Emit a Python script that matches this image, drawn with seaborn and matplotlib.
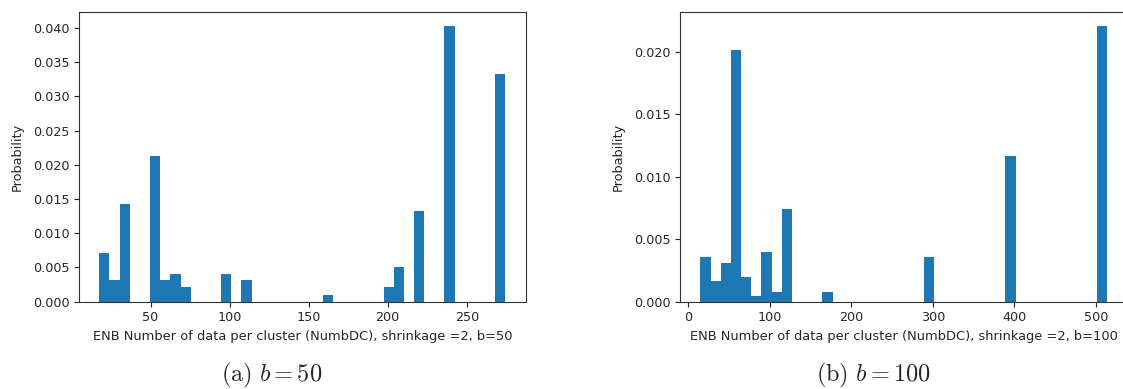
import numpy as np
import pandas as pd
import matplotlib
matplotlib.use("Agg")
import matplotlib.pyplot as plt
import seaborn as sns

# ---- data (density-normalised histograms, 40 bins each) ----
left_range = (17.6, 274.4)
left_prob = [0.0071, 0.0032, 0.0143, 0.0, 0.0, 0.0213, 0.0032, 0.0041, 0.0022, 0.0,
             0.0, 0.0, 0.0041, 0.0, 0.0032, 0.0, 0.0, 0.0, 0.0, 0.0,
             0.0, 0.0, 0.0010, 0.0, 0.0, 0.0, 0.0, 0.0, 0.0022, 0.0051,
             0.0, 0.0133, 0.0, 0.0, 0.0403, 0.0, 0.0, 0.0, 0.0, 0.0333]

right_range = (15.3, 513.5)
right_prob = [0.00355, 0.00163, 0.00312, 0.0202, 0.00195, 0.00045, 0.00397, 0.00077, 0.0074, 0.0,
              0.0, 0.0, 0.00077, 0.0, 0.0, 0.0, 0.0, 0.0, 0.0, 0.0,
              0.0, 0.0, 0.00355, 0.0, 0.0, 0.0, 0.0, 0.0, 0.0, 0.0,
              0.01165, 0.0, 0.0, 0.0, 0.0, 0.0, 0.0, 0.0, 0.0, 0.0221]

left_xlabel = "ENB Number of data per cluster (NumbDC), shrinkage =2, b=50"
right_xlabel = "ENB Number of data per cluster (NumbDC), shrinkage =2, b=100"
ylabel = "Probability"
left_caption = r"$\mathrm{(a)}\ b = 50$"
right_caption = r"$\mathrm{(b)}\ b = 100$"

sns.set_style("ticks")
plt.rcParams["font.family"] = ["DejaVu Sans"]
plt.rcParams["mathtext.fontset"] = "cm"
plt.rcParams["axes.edgecolor"] = "#333333"
plt.rcParams["axes.linewidth"] = 0.8

fig = plt.figure(figsize=(11.23, 3.89), dpi=100, facecolor="white")
ax1 = fig.add_axes([79 / 1123, 1 - 301.7 / 389, 446.7 / 1123, 289.7 / 389])
ax2 = fig.add_axes([680 / 1123, 1 - 301.7 / 389, 447.5 / 1123, 289.7 / 389])

for ax, rng, prob, xl in [(ax1, left_range, left_prob, left_xlabel),
                          (ax2, right_range, right_prob, right_xlabel)]:
    edges = np.linspace(rng[0], rng[1], len(prob) + 1)
    centers = (edges[:-1] + edges[1:]) / 2
    df = pd.DataFrame({"value": centers, "prob": prob})
    sns.histplot(data=df, x="value", weights="prob", bins=list(edges), ax=ax,
                 stat="count", color="#1f77b4", alpha=1, linewidth=0)
    ax.set_xlabel(xl, fontsize=9.4, color="#262626")
    ax.set_ylabel(ylabel, fontsize=9.3, color="#262626", labelpad=6.5)
    ax.tick_params(labelsize=9.2, colors="#262626", length=3.5, width=0.8)
    ax.margins(x=0.05, y=0.05)
    ax.set_ylim(0, max(prob) * 1.05)
    for s in ax.spines.values():
        s.set_visible(True)

fig.text(272 / 1123, 1 - 375 / 389, left_caption, fontsize=17.5, ha="center", va="center")
fig.text(873 / 1123, 1 - 375 / 389, right_caption, fontsize=17.5, ha="center", va="center")

fig.savefig("out.png", dpi=100, facecolor="white")
